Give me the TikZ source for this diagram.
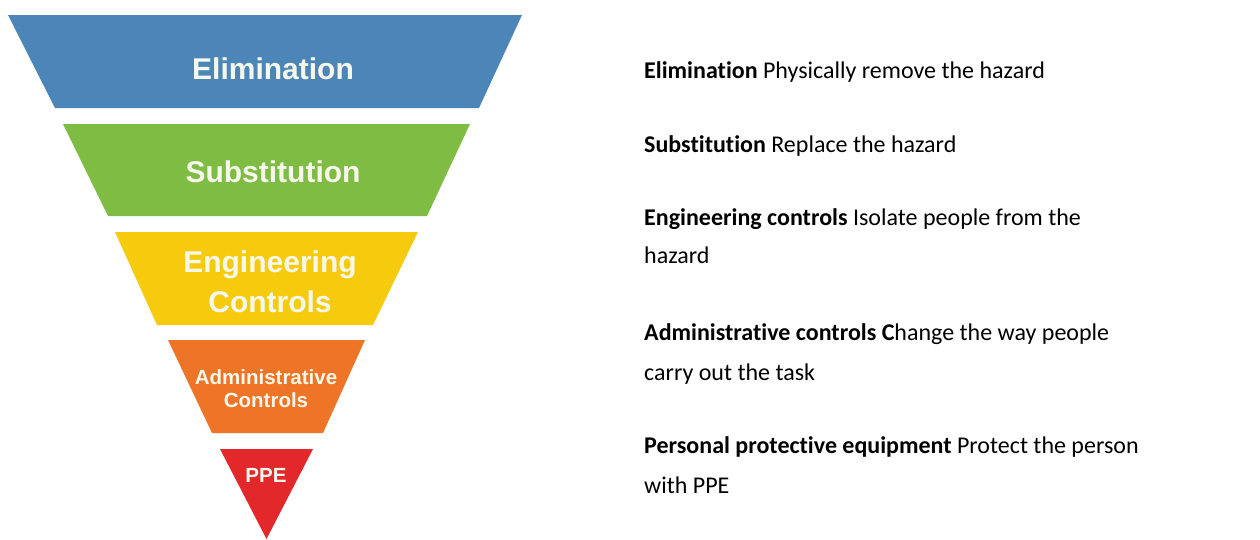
\documentclass[tikz,border=0pt]{standalone}
\usepackage{fontspec}
\setmainfont{Carlito}[Ligatures=NoCommon]
\newfontfamily\pyrfont{Liberation Sans}
\definecolor{cblue}{HTML}{4C86B9}
\definecolor{cgreen}{HTML}{7EBC43}
\definecolor{cyellow}{HTML}{F6CB0E}
\definecolor{corange}{HTML}{EE7428}
\definecolor{cred}{HTML}{E3282C}
\definecolor{ptext}{HTML}{F7F8EC}
\begin{document}
\begin{tikzpicture}[x=1pt,y=-1pt,
  big/.style={text=ptext,font=\pyrfont\bfseries\fontsize{30}{38}\selectfont,inner sep=0pt,anchor=base},
  small/.style={text=ptext,font=\pyrfont\bfseries\fontsize{20.5}{23}\selectfont,inner sep=0pt,anchor=base},
  desc/.style={text=black,font=\fontsize{24}{38}\selectfont,inner sep=0pt,anchor=base west}]
\useasboundingbox[fill=white] (0,0) rectangle (1260,539);
% bands
\fill[cblue] (8,15) -- (522,15) -- (479,108) -- (55,108) -- cycle;
\fill[cgreen] (63,124) -- (470,124) -- (427,216) -- (108,216) -- cycle;
\fill[cyellow] (115,232) -- (418,232) -- (373,325) -- (157,325) -- cycle;
\fill[corange] (168,340) -- (365,340) -- (323,433) -- (212,433) -- cycle;
\fill[cred] (220,449) -- (313,449) -- (266.5,539) -- cycle;
% band labels
\node[big] (l1) at (273,79) {Elimination};
\node[big] (l2) at (273,182) {Substitution};
\node[big] (l3a) at (270,272) {Engineering};
\node[big] (l3b) at (270,312) {Controls};
\node[small] (l4a) at (266,384) {Administrative};
\node[small] (l4b) at (266,407) {Controls};
\node[small] (l5) at (266,482) {PPE};
% descriptions
\node[desc] (d1) at (644,78) {\textbf{Elimination} Physically remove the hazard};
\node[desc] (d2) at (644,152) {\textbf{Substitution} Replace the hazard};
\node[desc] (d3a) at (644,225) {\textbf{Engineering controls} Isolate people from the};
\node[desc] (d3b) at (644,263) {hazard};
\node[desc] (d4a) at (644,340) {\textbf{Administrative controls C}hange the way people};
\node[desc] (d4b) at (644,380) {carry out the task};
\node[desc] (d5a) at (644,453) {\textbf{Personal protective equipment} Protect the person};
\node[desc] (d5b) at (644,493) {with PPE};
\end{tikzpicture}
\end{document}
